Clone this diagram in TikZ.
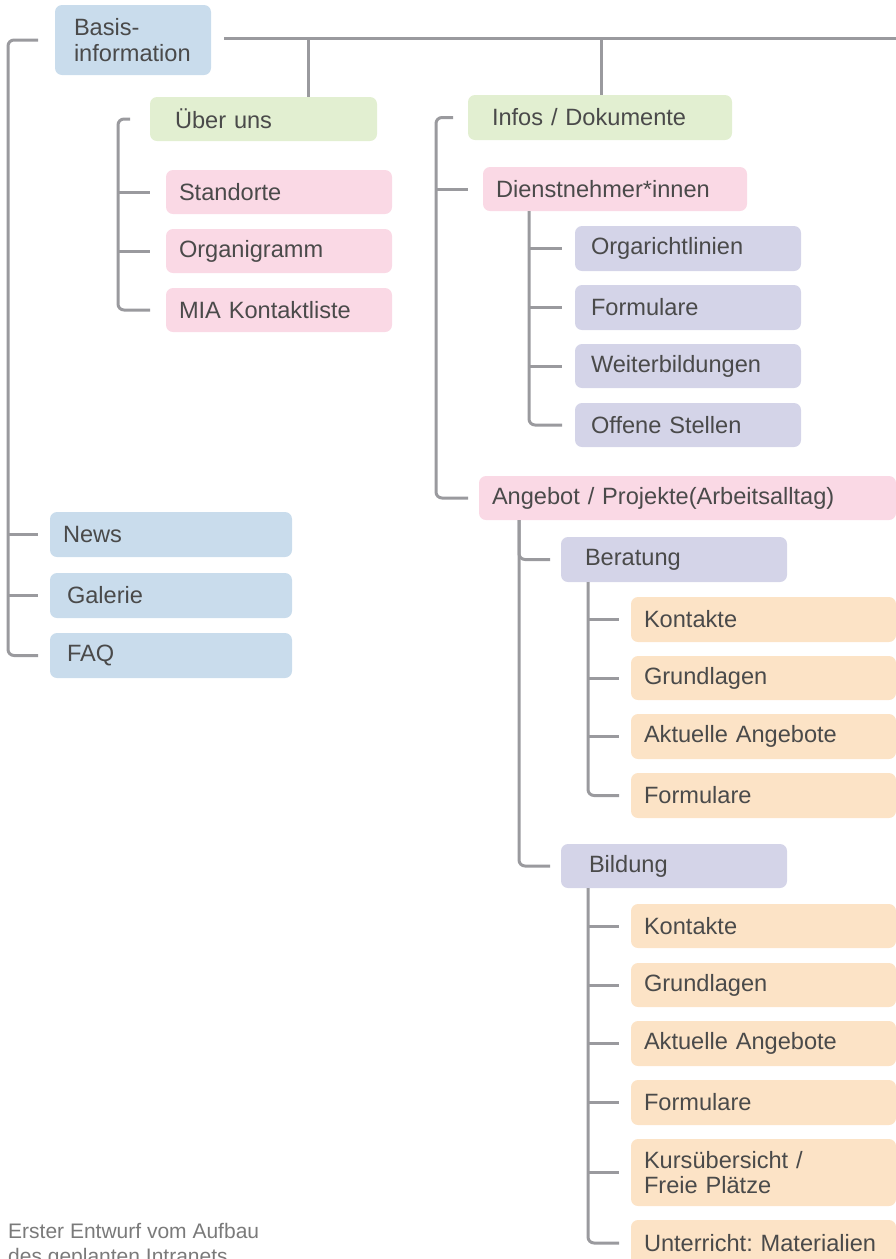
\documentclass[tikz,border=0pt]{standalone}
\usepackage{fontspec}
\setmainfont{Liberation Sans}
\usetikzlibrary{calc}
\definecolor{cblue}{HTML}{C9DCEC}
\definecolor{cgreen}{HTML}{E2EFD1}
\definecolor{cpink}{HTML}{FAD9E5}
\definecolor{cpurple}{HTML}{D4D4E8}
\definecolor{corange}{HTML}{FCE3C6}
\definecolor{txt}{HTML}{4A4A4A}
\definecolor{lc}{HTML}{9A9A9E}
\definecolor{notec}{HTML}{7A7A7A}
\frenchspacing
\begin{document}
\begin{tikzpicture}[x=1pt,y=-1pt,
  bx/.style={rounded corners=7pt, anchor=north west, align=left, text=txt,
    font=\fontsize{23.6}{25.5}\selectfont, inner ysep=0pt, outer sep=0pt},
  ln/.style={draw=lc, line width=3pt, rounded corners=6pt},
]
\useasboundingbox (0,0) rectangle (896,1259);

% nodes
\node[bx, fill=cblue, minimum height=70pt, text width=118pt, inner xsep=19pt] (basis) at (55,5) {Basis-\\information};
\node[bx, fill=cgreen, minimum height=44pt, text width=177pt, inner xsep=25pt] (ueber) at (150,97) {Über uns};
\node[bx, fill=cpink, minimum height=44pt, text width=200pt, inner xsep=13pt] (stand) at (166,170) {Standorte};
\node[bx, fill=cpink, minimum height=44pt, text width=200pt, inner xsep=13pt] (orga) at (166,229) {Organigramm};
\node[bx, fill=cpink, minimum height=44pt, text width=200pt, inner xsep=13pt] (mia) at (166,288) {MIA Kontaktliste};

\node[bx, fill=cgreen, minimum height=45pt, text width=216pt, inner xsep=24pt] (infos) at (468,95) {Infos / Dokumente};
\node[bx, fill=cpink, minimum height=44pt, text width=238pt, inner xsep=13pt] (dienst) at (483,167) {Dienstnehmer*innen};
\node[bx, fill=cpurple, minimum height=45pt, text width=194pt, inner xsep=16pt] (orgr) at (575,226) {Orgarichtlinien};
\node[bx, fill=cpurple, minimum height=45pt, text width=194pt, inner xsep=16pt] (form1) at (575,285) {Formulare};
\node[bx, fill=cpurple, minimum height=44pt, text width=194pt, inner xsep=16pt] (weiter) at (575,344) {Weiterbildungen};
\node[bx, fill=cpurple, minimum height=44pt, text width=194pt, inner xsep=16pt] (offen) at (575,403) {Offene Stellen};

\node[bx, fill=cpink, minimum height=44pt, text width=391pt, inner xsep=13pt] (angebot) at (479,476) {Angebot / Projekte(Arbeitsalltag)};
\node[bx, fill=cpurple, minimum height=45pt, text width=178pt, inner xsep=24pt] (beratung) at (561,537) {Beratung};
\node[bx, fill=corange, minimum height=45pt, text width=239pt, inner xsep=13pt] (k1) at (631,597) {Kontakte};
\node[bx, fill=corange, minimum height=44pt, text width=239pt, inner xsep=13pt] (g1) at (631,656) {Grundlagen};
\node[bx, fill=corange, minimum height=45pt, text width=239pt, inner xsep=13pt] (a1) at (631,714) {Aktuelle Angebote};
\node[bx, fill=corange, minimum height=45pt, text width=239pt, inner xsep=13pt] (f1) at (631,773) {Formulare};

\node[bx, fill=cpurple, minimum height=44pt, text width=170pt, inner xsep=28pt] (bildung) at (561,844) {Bildung};
\node[bx, fill=corange, minimum height=44pt, text width=239pt, inner xsep=13pt] (k2) at (631,904) {Kontakte};
\node[bx, fill=corange, minimum height=44pt, text width=239pt, inner xsep=13pt] (g2) at (631,963) {Grundlagen};
\node[bx, fill=corange, minimum height=45pt, text width=239pt, inner xsep=13pt] (a2) at (631,1021) {Aktuelle Angebote};
\node[bx, fill=corange, minimum height=45pt, text width=239pt, inner xsep=13pt] (f2) at (631,1080) {Formulare};
\node[bx, fill=corange, minimum height=67pt, text width=239pt, inner xsep=13pt] (kurs) at (631,1139) {Kursübersicht /\\Freie Plätze};
\node[bx, fill=corange, minimum height=46pt, text width=239pt, inner xsep=13pt] (unter) at (631,1220) {Unterricht: Materialien};

\node[bx, fill=cblue, minimum height=45pt, text width=216pt, inner xsep=13pt] (news) at (50,512) {News};
\node[bx, fill=cblue, minimum height=45pt, text width=208pt, inner xsep=17pt] (galerie) at (50,573) {Galerie};
\node[bx, fill=cblue, minimum height=45pt, text width=208pt, inner xsep=17pt] (faq) at (50,633) {FAQ};

\node[anchor=north west, inner sep=0pt, align=left, text=notec,
  font=\fontsize{21}{25}\selectfont] (note) at (8,1223) {Erster Entwurf vom Aufbau\\des geplanten Intranets};

% connectors
\coordinate (t0) at (224,38);
\coordinate (tR) at (896,38);
\draw[ln] (t0) -- (tR);
\coordinate (d1) at (308,38);
\draw[ln] (d1) -- (d1 |- ueber.north);
\coordinate (d2) at (601,38);
\draw[ln] (d2) -- (d2 |- infos.north);

\coordinate (L) at (8,0);
\draw[ln] ([xshift=-17pt]basis.west) -- (L |- basis.west) -- (L |- faq.west) -- ([xshift=-12pt]faq.west);
\draw[ln] (L |- news.west) -- ([xshift=-12pt]news.west);
\draw[ln] (L |- galerie.west) -- ([xshift=-12pt]galerie.west);

\coordinate (U) at (118,0);
\draw[ln] ([xshift=-20pt]ueber.west) -- (U |- ueber.west) -- (U |- mia.west) -- ([xshift=-16pt]mia.west);
\draw[ln] (U |- stand.west) -- ([xshift=-16pt]stand.west);
\draw[ln] (U |- orga.west) -- ([xshift=-16pt]orga.west);

\coordinate (I) at (436,0);
\draw[ln] ([xshift=-15pt]infos.west) -- (I |- infos.west) -- (I |- angebot.west) -- ([xshift=-11pt]angebot.west);
\draw[ln] (I |- dienst.west) -- ([xshift=-15pt]dienst.west);

\coordinate (D) at (529,0);
\draw[ln] (D |- dienst.south) -- (D |- offen.west) -- ([xshift=-13pt]offen.west);
\draw[ln] (D |- orgr.west) -- ([xshift=-13pt]orgr.west);
\draw[ln] (D |- form1.west) -- ([xshift=-13pt]form1.west);
\draw[ln] (D |- weiter.west) -- ([xshift=-13pt]weiter.west);

\coordinate (A) at (519,0);
\draw[ln] (A |- angebot.south) -- (A |- bildung.west) -- ([xshift=-11pt]bildung.west);
\draw[ln] (A |- angebot.south) -- (A |- beratung.west) -- ([xshift=-11pt]beratung.west);

\coordinate (B) at (588,0);
\draw[ln] (B |- beratung.south) -- (B |- f1.west) -- ([xshift=-12pt]f1.west);
\draw[ln] (B |- k1.west) -- ([xshift=-12pt]k1.west);
\draw[ln] (B |- g1.west) -- ([xshift=-12pt]g1.west);
\draw[ln] (B |- a1.west) -- ([xshift=-12pt]a1.west);

\draw[ln] (B |- bildung.south) -- (B |- unter.west) -- ([xshift=-12pt]unter.west);
\draw[ln] (B |- k2.west) -- ([xshift=-12pt]k2.west);
\draw[ln] (B |- g2.west) -- ([xshift=-12pt]g2.west);
\draw[ln] (B |- a2.west) -- ([xshift=-12pt]a2.west);
\draw[ln] (B |- f2.west) -- ([xshift=-12pt]f2.west);
\draw[ln] (B |- kurs.west) -- ([xshift=-12pt]kurs.west);
\end{tikzpicture}
\end{document}
